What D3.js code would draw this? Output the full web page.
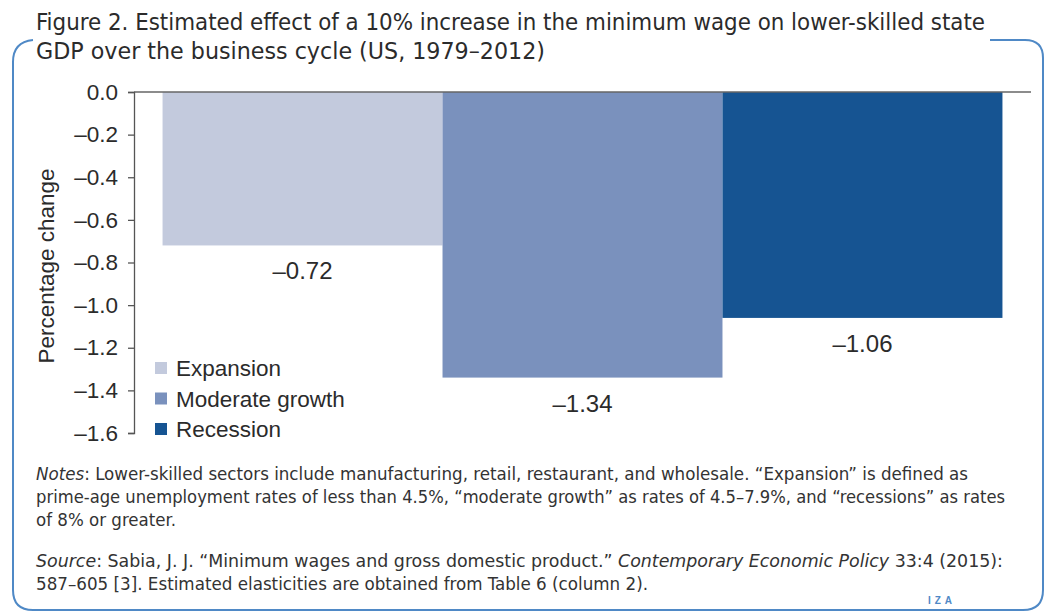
<!DOCTYPE html>
<html><head><meta charset="utf-8">
<script src="https://cdn.jsdelivr.net/npm/d3@7"></script>
<style>
body{margin:0;background:#fff;}
svg{display:block;}
</style></head>
<body><svg id="c" width="1045" height="612"></svg>
<script>
const categories = ["Expansion", "Moderate growth", "Recession"];
const values = [-0.72, -1.34, -1.06];
const valueLabels = ["\u20130.72", "\u20131.34", "\u20131.06"];
const colors = ["#c3cadd", "#7a91bd", "#165492"];
const yTicks = [0, -0.2, -0.4, -0.6, -0.8, -1.0, -1.2, -1.4, -1.6];
const titleLines = ["Figure 2. Estimated effect of a 10% increase in the minimum wage on lower-skilled state",
                    "GDP over the business cycle (US, 1979\u20132012)"];
const yTitle = "Percentage change";

const svg = d3.select("#c");
const narrow = "'Liberation Sans Narrow','DejaVu Sans Condensed','Open Sans',sans-serif";
const sans = "'Liberation Sans',Arial,sans-serif";

// frame
svg.append("path")
  .attr("d", "M33,40 Q13,42 13,62 L13,590 Q13,610 33,610 L1023,610 Q1043,610 1043,590 L1043,58 Q1043,40 1025,40 L990,40")
  .attr("fill","none").attr("stroke","#4f89c6").attr("stroke-width",2);

// title
const tt = svg.append("g").attr("font-family", narrow).attr("fill","#2b2b2b").attr("font-size",23).attr("font-weight",500);
tt.append("text").attr("x",36).attr("y",30).attr("textLength",949).attr("lengthAdjust","spacingAndGlyphs").text(titleLines[0]);
tt.append("text").attr("x",36).attr("y",59).attr("textLength",509).attr("lengthAdjust","spacingAndGlyphs").text(titleLines[1]);

const y = d3.scaleLinear().domain([-1.6, 0]).range([433, 92]);
const x = d3.scaleBand().domain(categories).range([134, 1031]).paddingInner(0).paddingOuter(0.102);

// bars
svg.append("g").selectAll("rect").data(values).join("rect")
  .attr("x",(d,i)=>x(categories[i]))
  .attr("width", x.bandwidth())
  .attr("y", y(0))
  .attr("height", d=>y(d)-y(0))
  .attr("fill",(d,i)=>colors[i]);

// value labels
svg.append("g").selectAll("text").data(values).join("text")
  .attr("x",(d,i)=>x(categories[i])+x.bandwidth()/2)
  .attr("y", d=>y(d)+34)
  .attr("text-anchor","middle")
  .attr("font-family",sans).attr("font-size",24).attr("fill","#2b2b2b")
  .text((d,i)=>valueLabels[i]);

// top baseline
svg.append("line").attr("x1",134).attr("x2",1031).attr("y1",y(0)).attr("y2",y(0))
  .attr("stroke","#666").attr("stroke-width",1.3);

// y axis
const ax = svg.append("g").attr("transform","translate(134,0)")
  .call(d3.axisLeft(y).tickValues(yTicks).tickSize(6).tickPadding(10)
    .tickFormat(d=>d3.format(".1f")(d).replace("\u2212","\u2013").replace("-","\u2013")));
ax.selectAll("path,line").attr("stroke","#555").attr("stroke-width",1.3);
ax.selectAll("text").attr("font-family",sans).attr("font-size",22.5).attr("fill","#2b2b2b");

svg.append("text").attr("transform","translate(54,266) rotate(-90)")
  .attr("text-anchor","middle").attr("font-family",sans).attr("font-size",22.5).attr("fill","#2b2b2b")
  .text(yTitle);

// legend
const lg = svg.append("g").selectAll("g").data(categories).join("g")
  .attr("transform",(d,i)=>`translate(155,${368+i*30.5})`);
lg.append("rect").attr("x",0).attr("y",-6).attr("width",12).attr("height",12).attr("fill",(d,i)=>colors[i]);
lg.append("text").attr("x",21).attr("y",8).attr("font-family",sans).attr("font-size",22.5).attr("fill","#2b2b2b").text(d=>d);

// notes
const nt = svg.append("g").attr("font-family",narrow).attr("font-size",17.5).attr("fill","#333");
function line(yy, parts, len){
  const t = nt.append("text").attr("x",36).attr("y",yy);
  if(len) t.attr("textLength",len).attr("lengthAdjust","spacingAndGlyphs");
  parts.forEach(p=>t.append("tspan").attr("font-style",p[1]?"italic":null).text(p[0]));
}
line(480, [["Notes",1],[": Lower-skilled sectors include manufacturing, retail, restaurant, and wholesale. \u201CExpansion\u201D is defined as",0]], 932);
line(503, [["prime-age unemployment rates of less than 4.5%, \u201Cmoderate growth\u201D as rates of 4.5\u20137.9%, and \u201Crecessions\u201D as rates",0]], 969);
line(526, [["of 8% or greater.",0]], 140);
line(567, [["Source",1],[": Sabia, J. J. \u201CMinimum wages and gross domestic product.\u201D ",0],["Contemporary Economic Policy",1],[" 33:4 (2015):",0]], 967);
line(590, [["587\u2013605 [3]. Estimated elasticities are obtained from Table 6 (column 2).",0]], 612);

// IZA logo
svg.append("text").attr("x",942).attr("y",604).attr("text-anchor","middle")
  .attr("font-family",sans).attr("font-size",10).attr("font-weight","bold").attr("fill","#4f89c6")
  .attr("letter-spacing",4).text("IZA");
</script></body></html>
